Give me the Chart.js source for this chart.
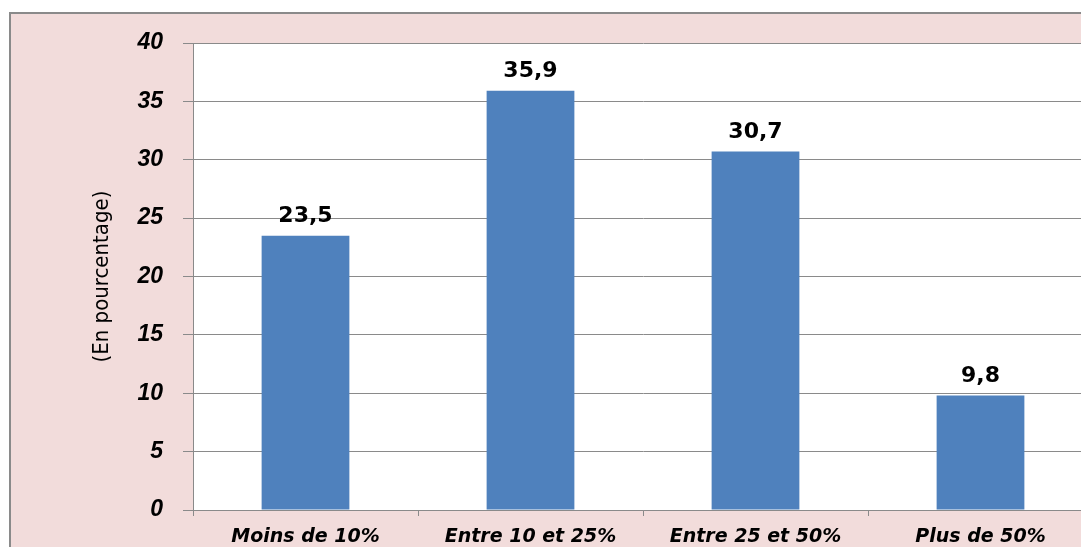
<!DOCTYPE html>
<html>
<head>
<meta charset="utf-8">
<script src="https://cdn.jsdelivr.net/npm/chart.js@4"></script>
<style>
  html, body { margin: 0; padding: 0; background: #ffffff; overflow: hidden; }
  canvas { display: block; }
</style>
</head>
<body>
<canvas id="chart" width="1100" height="547"></canvas>
<script>
const categories = ["Moins de 10%", "Entre 10 et 25%", "Entre 25 et 50%", "Plus de 50%"];
const values = [23.5, 35.9, 30.7, 9.8];
const yTicks = [0, 5, 10, 15, 20, 25, 30, 35, 40];
const yTitle = "(En pourcentage)";

const pink = "#f2dcdb";
const gray = "#8a8a8a";

// pink frame behind the chart, white plot area
const backgroundPlugin = {
  id: "background",
  beforeDraw(chart) {
    const ctx = chart.ctx;
    const area = chart.chartArea;
    ctx.save();
    ctx.fillStyle = "#ffffff";
    ctx.fillRect(0, 0, chart.width, chart.height);
    ctx.fillStyle = pink;
    ctx.fillRect(10, 13, chart.width, chart.height);
    ctx.strokeStyle = gray;
    ctx.lineWidth = 2;
    ctx.strokeRect(10, 13, chart.width + 20, chart.height + 20);
    ctx.fillStyle = "#ffffff";
    ctx.fillRect(area.left, area.top, area.right - area.left, area.bottom - area.top);
    ctx.restore();
  }
};

// value labels above the bars
const valueLabels = {
  id: "valueLabels",
  afterDatasetsDraw(chart) {
    const ctx = chart.ctx;
    const meta = chart.getDatasetMeta(0);
    ctx.save();
    ctx.font = "bold 22px 'DejaVu Sans'";
    ctx.fillStyle = "#000000";
    ctx.textAlign = "center";
    ctx.textBaseline = "alphabetic";
    meta.data.forEach((bar, i) => {
      const text = String(values[i]).replace(".", ",");
      ctx.fillText(text, bar.x, bar.y - 14);
    });
    ctx.restore();
  }
};

new Chart(document.getElementById("chart"), {
  type: "bar",
  data: {
    labels: categories,
    datasets: [{
      data: values,
      backgroundColor: "#4f81bd",
      borderWidth: 0,
      categoryPercentage: 1,
      barPercentage: 0.39
    }]
  },
  options: {
    responsive: false,
    animation: false,
    layout: { padding: { top: 43, right: 7, left: 0, bottom: 0 } },
    plugins: {
      legend: { display: false },
      tooltip: { enabled: false }
    },
    scales: {
      x: {
        afterFit: (scale) => { scale.height = 37; },
        grid: {
          drawOnChartArea: false,
          drawTicks: true,
          tickLength: 6,
          color: gray
        },
        border: { display: true, color: gray, width: 1 },
        ticks: {
          color: "#000000",
          padding: 10,
          font: { family: "'DejaVu Sans'", size: 19, weight: "bold", style: "italic" }
        }
      },
      y: {
        min: 0,
        max: 40,
        afterFit: (scale) => { scale.width = 193; },
        afterBuildTicks: (scale) => { scale.ticks = yTicks.map((v) => ({ value: v })); },
        grid: {
          color: gray,
          tickLength: 10,
          lineWidth: 1
        },
        border: { display: true, color: gray, width: 1 },
        ticks: {
          color: "#000000",
          padding: 20,
          font: { family: "'Liberation Sans', Arial", size: 23, weight: "bold", style: "italic" }
        },
        title: {
          display: true,
          text: yTitle,
          color: "#000000",
          padding: { top: 89, bottom: 0 },
          font: { family: "'DejaVu Sans Condensed', 'Liberation Sans Narrow'", size: 22, weight: "normal" }
        }
      }
    }
  },
  plugins: [backgroundPlugin, valueLabels]
});
</script>
</body>
</html>
